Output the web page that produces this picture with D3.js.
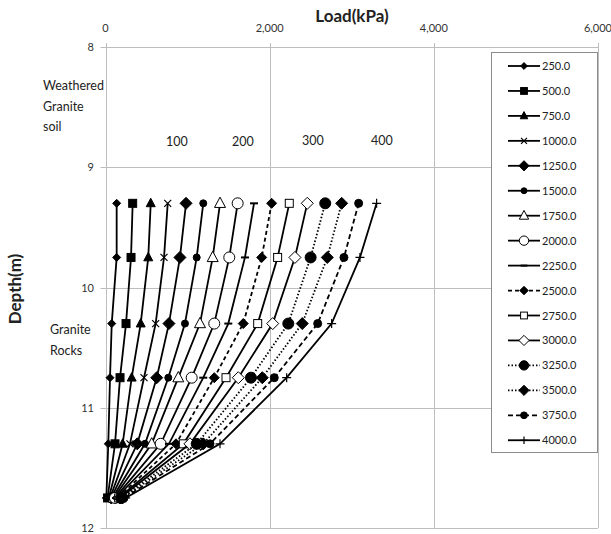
<!DOCTYPE html>
<html>
<head>
<meta charset="utf-8">
<script src="https://cdn.jsdelivr.net/npm/d3@7"></script>
<style>
  html, body { margin: 0; padding: 0; background: #fff; }
  svg { display: block; font-family: Lato, 'Open Sans', sans-serif; }
</style>
</head>
<body>
<svg id="chart" width="611" height="534"></svg>
<script>
'use strict';

/* ── data ────────────────────────────────── */
const depths = [9.3, 9.75, 10.3, 10.75, 11.3, 11.75];
const seriesNames = ['250.0','500.0','750.0','1000.0','1250.0','1500.0','1750.0','2000.0',
                     '2250.0','2500.0','2750.0','3000.0','3250.0','3500.0','3750.0','4000.0'];
// load (kPa) at each depth, one row per series
const loads = [
  [136,  136,   76,   55,   34,  10],
  [331,  311,  250,  177,  116,  25],
  [551,  521,  429,  319,  209,  40],
  [758,  713,  611,  469,  298,  55],
  [981,  907,  773,  624,  387,  70],
  [1191, 1111, 968,  765,  481,  85],
  [1395, 1306, 1151, 887,  563, 100],
  [1610, 1508, 1325, 1050, 672, 115],
  [1809, 1699, 1496, 1191, 773, 130],
  [2024, 1903, 1678, 1325, 859, 145],
  [2239, 2097, 1854, 1468, 948, 160],
  [2458, 2308, 2037, 1618, 1029, 175],
  [2677, 2499, 2227, 1772, 1111, 190],
  [2877, 2702, 2397, 1910, 1191, 205],
  [3084, 2905, 2585, 2056, 1273, 225],
  [3303, 3100, 2755, 2207, 1395, 245],
];
const xTicks = [0, 2000, 4000, 6000];
const yTicks = [8, 9, 10, 11, 12];
const pressureLabels = [
  { text: '100', load: 871,  depth: 8.78 },
  { text: '200', load: 1674, depth: 8.78 },
  { text: '300', load: 2527, depth: 8.77 },
  { text: '400', load: 3367, depth: 8.77 },
];

/* ── styles per series ───────────────────── */
// marker: [shape, size, filled]
const markers = [
  ['diamond', 4, true], ['square', 8, true], ['triangle', 9, true], ['cross', 7, false],
  ['diamond', 6, true], ['circle', 7, true], ['triangle', 11, false], ['circle', 11, false],
  ['dash', 8, true], ['diamond', 5, true], ['square', 8, false], ['diamond', 6, false],
  ['circle', 11, true], ['diamond', 6, true], ['circle', 8, true], ['plus', 9, false],
];
const dashes = [null,null,null,null,null,null,null,null,
                null,'4,3',null,null,'1.5,2','1.5,2','5,3',null];

const svg = d3.select('#chart');

const x = d3.scaleLinear().domain([0, 6000]).range([105.5, 598]);
const y = d3.scaleLinear().domain([8, 12]).range([47, 528]);

/* ── grid ────────────────────────────────── */
const grid = svg.append('g').attr('stroke', '#bdbdbd').attr('stroke-width', 1);
xTicks.forEach(t => {
  grid.append('line')
    .attr('x1', Math.round(x(t)) + 0.5).attr('x2', Math.round(x(t)) + 0.5)
    .attr('y1', y(8) - 4).attr('y2', y(12));
});
yTicks.forEach(t => {
  grid.append('line')
    .attr('x1', x(0) - 5).attr('x2', x(6000))
    .attr('y1', Math.round(y(t)) + 0.5).attr('y2', Math.round(y(t)) + 0.5);
});

/* ── axes labels ─────────────────────────── */
svg.append('g').selectAll('text').data(xTicks).join('text')
  .attr('x', d => x(d)).attr('y', 32)
  .attr('text-anchor', 'middle')
  .attr('font-size', 11).attr('fill', '#333')
  .text(d => d3.format(',')(d));

svg.append('g').selectAll('text').data(yTicks).join('text')
  .attr('x', 94).attr('y', d => y(d) + 4)
  .attr('text-anchor', 'end')
  .attr('font-size', 11).attr('fill', '#333')
  .text(d => d);

svg.append('text')
  .attr('x', 352).attr('y', 22)
  .attr('text-anchor', 'middle')
  .attr('font-size', 17).attr('font-weight', 'bold').attr('fill', '#222')
  .text('Load(kPa)');

svg.append('text')
  .attr('transform', 'translate(21,289) rotate(-90)')
  .attr('text-anchor', 'middle')
  .attr('font-size', 17).attr('font-weight', 'bold').attr('fill', '#222')
  .text('Depth(m)');

/* ── annotations ─────────────────────────── */
const note = (lines, x0, y0) => {
  const t = svg.append('text').attr('font-size', 12.5).attr('fill', '#222');
  lines.forEach((l, i) => t.append('tspan').attr('x', x0).attr('y', y0 + i * 20.5).text(l));
};
note(['Weathered', 'Granite', 'soil'], 43, 90);
note(['Granite', 'Rocks'], 50, 334);

svg.append('g').selectAll('text').data(pressureLabels).join('text')
  .attr('x', d => x(d.load)).attr('y', d => y(d.depth) + 5)
  .attr('text-anchor', 'middle')
  .attr('font-size', 12.5).attr('fill', '#222')
  .text(d => d.text);

/* ── marker drawing ──────────────────────── */
function drawMarker(g, m, cx, cy) {
  const [shape, s, filled] = m;
  const fill = filled ? '#000' : '#fff';
  if (shape === 'circle') {
    g.append('circle').attr('cx', cx).attr('cy', cy).attr('r', s / 2)
      .attr('fill', fill).attr('stroke', '#000').attr('stroke-width', 1);
  } else if (shape === 'square') {
    g.append('rect').attr('x', cx - s / 2).attr('y', cy - s / 2).attr('width', s).attr('height', s)
      .attr('fill', fill).attr('stroke', '#000').attr('stroke-width', 1);
  } else if (shape === 'diamond') {
    g.append('path')
      .attr('d', `M${cx},${cy - s}L${cx + s},${cy}L${cx},${cy + s}L${cx - s},${cy}Z`)
      .attr('fill', fill).attr('stroke', '#000').attr('stroke-width', 1);
  } else if (shape === 'triangle') {
    const h = s * 0.9;
    g.append('path')
      .attr('d', `M${cx},${cy - h / 1.6}L${cx + s / 2},${cy + h / 2.4}L${cx - s / 2},${cy + h / 2.4}Z`)
      .attr('fill', fill).attr('stroke', '#000').attr('stroke-width', 1);
  } else if (shape === 'cross') {
    const r = s / 2;
    g.append('path')
      .attr('d', `M${cx - r},${cy - r}L${cx + r},${cy + r}M${cx - r},${cy + r}L${cx + r},${cy - r}`)
      .attr('stroke', '#000').attr('stroke-width', 1.2);
  } else if (shape === 'plus') {
    const r = s / 2;
    g.append('path')
      .attr('d', `M${cx - r},${cy}L${cx + r},${cy}M${cx},${cy - r}L${cx},${cy + r}`)
      .attr('stroke', '#000').attr('stroke-width', 1.2);
  } else if (shape === 'dash') {
    g.append('path')
      .attr('d', `M${cx - s / 2},${cy}L${cx + s / 2},${cy}`)
      .attr('stroke', '#000').attr('stroke-width', 2);
  }
}

/* ── series ──────────────────────────────── */
const line = d3.line().x(d => x(d[0])).y(d => y(d[1]));
const seriesG = svg.append('g');
loads.forEach((row, i) => {
  const pts = row.map((v, j) => [v, depths[j]]);
  const g = seriesG.append('g');
  g.append('path')
    .datum(pts)
    .attr('d', line)
    .attr('fill', 'none')
    .attr('stroke', '#000')
    .attr('stroke-width', 1.8)
    .attr('stroke-dasharray', dashes[i]);
  pts.forEach(p => drawMarker(g, markers[i], x(p[0]), y(p[1])));
});

/* ── legend ──────────────────────────────── */
const lg = svg.append('g');
lg.append('rect')
  .attr('x', 491.5).attr('y', 52.5).attr('width', 106).attr('height', 400)
  .attr('fill', '#fff').attr('stroke', '#8c8c8c').attr('stroke-width', 1);
seriesNames.forEach((name, i) => {
  const cy = 66 + i * 24.95;
  const g = lg.append('g');
  g.append('line')
    .attr('x1', 508).attr('x2', 540).attr('y1', cy).attr('y2', cy)
    .attr('stroke', '#000').attr('stroke-width', 1.8)
    .attr('stroke-dasharray', dashes[i]);
  const m = markers[i].slice();
  m[1] = m[1] * 0.85;
  drawMarker(g, m, 524, cy);
  g.append('text')
    .attr('x', 542).attr('y', cy + 4)
    .attr('font-size', 11).attr('fill', '#222')
    .text(name);
});
</script>
</body>
</html>
